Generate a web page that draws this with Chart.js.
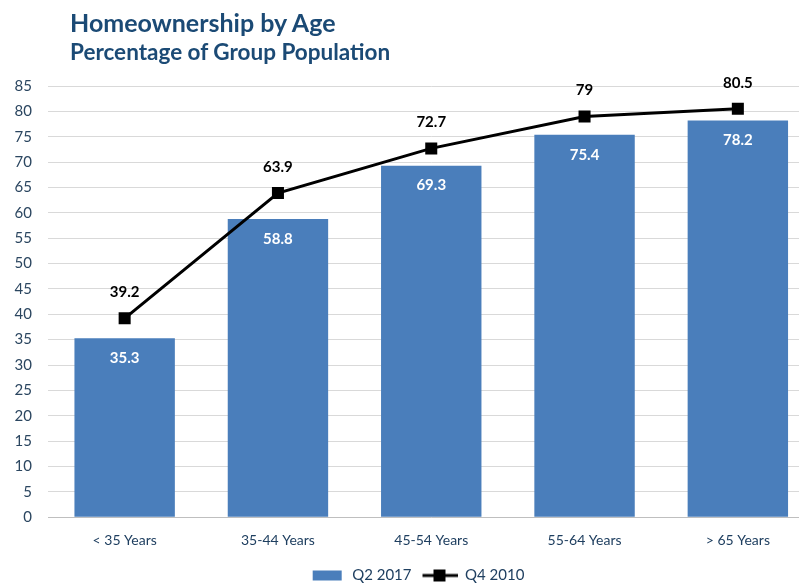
<!DOCTYPE html>
<html>
<head>
<meta charset="utf-8">
<script src="https://cdn.jsdelivr.net/npm/chart.js@4.4.0/dist/chart.umd.min.js"></script>
<style>
  html, body { margin: 0; padding: 0; background: #fff; }
  #wrap { position: relative; width: 799px; height: 586px; overflow: hidden; }
  .ttl { position: absolute; left: 70px; font-family: Lato, "Open Sans", sans-serif; font-weight: bold; color: #1b4a75; white-space: nowrap; }
  #t1 { top: 7px; font-size: 25px; }
  #t2 { top: 38px; font-size: 22.5px; }
</style>
</head>
<body>
<div id="wrap">
  <!-- el área del gráfico sigue un poco más allá del borde derecho, como en el original -->
  <canvas id="homeChart" width="823" height="586"></canvas>
  <div class="ttl" id="t1">Homeownership by Age</div>
  <div class="ttl" id="t2">Percentage of Group Population</div>
</div>
<script>
// datos
const ageGroups = ["< 35 Years", "35-44 Years", "45-54 Years", "55-64 Years", "> 65 Years"];
const q2_2017 = [35.3, 58.8, 69.3, 75.4, 78.2];
const q4_2010 = [39.2, 63.9, 72.7, 79, 80.5];

const barBlue = "#4a7ebb";
const fontFam = "Lato, 'Open Sans', sans-serif";

// iconos de la leyenda (con margen a la izquierda para separar los items)
const makeIcon = (draw) => {
  const c = document.createElement("canvas");
  c.width = 46; c.height = 14;
  draw(c.getContext("2d"));
  return c;
};
const barIcon = makeIcon(ctx => { ctx.fillStyle = barBlue; ctx.fillRect(14, 2, 29, 10); });
const lineIcon = makeIcon(ctx => {
  ctx.strokeStyle = "#000"; ctx.lineWidth = 3;
  ctx.beginPath(); ctx.moveTo(11, 7); ctx.lineTo(46, 7); ctx.stroke();
  ctx.fillStyle = "#000"; ctx.fillRect(22, 1, 12, 12);
});

// etiquetas de valores
const valueLabels = {
  id: "valueLabels",
  afterDatasetsDraw(chart) {
    const ctx = chart.ctx;
    ctx.save();
    ctx.textAlign = "center";
    ctx.textBaseline = "middle";
    ctx.font = "bold 15px " + fontFam;
    chart.data.datasets.forEach((ds, i) => {
      const meta = chart.getDatasetMeta(i);
      meta.data.forEach((el, j) => {
        if (ds.type === "bar") {
          ctx.fillStyle = "#fff";
          ctx.fillText(ds.data[j], el.x, el.y + 20);
        } else {
          ctx.fillStyle = "#000";
          ctx.fillText(ds.data[j], el.x, el.y - 26);
        }
      });
    });
    ctx.restore();
  }
};

new Chart(document.getElementById("homeChart"), {
  data: {
    labels: ageGroups,
    datasets: [
      {
        type: "line",
        label: "Q4 2010",
        data: q4_2010,
        borderColor: "#000",
        backgroundColor: "#000",
        borderWidth: 3,
        pointStyle: "rect",
        pointRadius: 8.5,
        pointBorderWidth: 0,
        tension: 0,
        order: 0
      },
      {
        type: "bar",
        label: "Q2 2017",
        data: q2_2017,
        backgroundColor: barBlue,
        barPercentage: 0.655,
        categoryPercentage: 1,
        order: 1
      }
    ]
  },
  options: {
    responsive: false,
    animation: false,
    layout: { padding: { top: 86, left: 0, right: 0, bottom: -7 } },
    scales: {
      x: {
        afterFit: (axis) => { axis.height += 4; },
        grid: { display: false, drawTicks: false },
        border: { color: "#bfbfbf", width: 1 },
        ticks: { color: "#1f3f60", padding: 15, font: { size: 14, family: fontFam } }
      },
      y: {
        min: 0,
        max: 85,
        afterFit: (axis) => { axis.width = 48; },
        ticks: { stepSize: 5, color: "#2b4660", padding: 16, font: { size: 15, family: fontFam } },
        grid: { color: "#d9d9d9", drawTicks: false },
        border: { display: false }
      }
    },
    plugins: {
      legend: {
        position: "bottom",
        reverse: true,
        labels: {
          usePointStyle: true,
          pointStyleWidth: 46,
          color: "#1f3f60",
          padding: 0,
          font: { size: 15, family: fontFam },
          generateLabels: (chart) => chart.data.datasets.map((ds, i) => ({
            text: ds.label,
            pointStyle: ds.type === "bar" ? barIcon : lineIcon,
            fillStyle: ds.backgroundColor,
            strokeStyle: ds.borderColor,
            lineWidth: 0,
            fontColor: "#1f3f60",
            datasetIndex: i,
            hidden: false
          }))
        }
      },
      tooltip: { enabled: false }
    }
  },
  plugins: [valueLabels]
});
</script>
</body>
</html>
